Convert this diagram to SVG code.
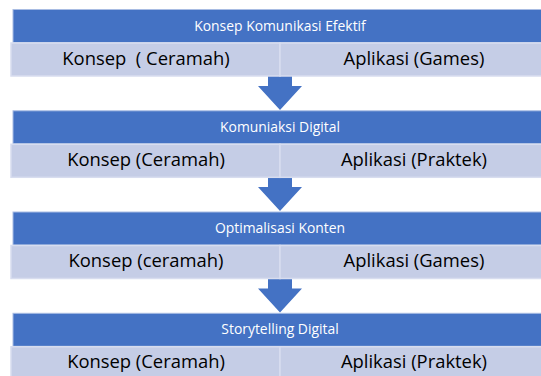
<svg xmlns="http://www.w3.org/2000/svg" width="541" height="376" viewBox="0 0 541 376">
<defs>
<style>
.hdr{fill:#4472c4;stroke:#a8bce3;stroke-width:1}
.cell{fill:#c5cde6;stroke:#d8ddef;stroke-width:1.5}
.ht{font-family:"Open Sans","Noto Sans","Liberation Sans",sans-serif;font-size:13.9px;fill:#ffffff;text-anchor:middle}
.ct{font-family:"Open Sans","Noto Sans","Liberation Sans",sans-serif;font-size:18.4px;fill:#000000;text-anchor:middle;white-space:pre}
.arr{fill:#4472c4}
</style>
</defs>
<rect width="541" height="376" fill="#ffffff"/>
<g id="connectors">
<polygon class="arr" points="268,76 292,76 292,86 302,86 280,110 258,86 268,86"/>
<polygon class="arr" points="268,177 292,177 292,187 302,187 280,211 258,187 268,187"/>
<polygon class="arr" points="268,278.5 292,278.5 292,288.5 302,288.5 280,312.5 258,288.5 268,288.5"/>
</g>
<g id="block1">
<rect class="hdr" x="13" y="9.5" width="540" height="33"/>
<text class="ht" x="280" y="30.5">Konsep Komunikasi Efektif</text>
<rect class="cell" x="11" y="43" width="269" height="33"/>
<rect class="cell" x="280" y="43" width="270" height="33"/>
<text class="ct" x="146" y="64.5" xml:space="preserve">Konsep  ( Ceramah)</text>
<text class="ct" x="414" y="64.5">Aplikasi (Games)</text>
</g>
<g id="block2">
<rect class="hdr" x="13" y="110.8" width="540" height="33"/>
<text class="ht" x="280" y="131.8">Komuniaksi Digital</text>
<rect class="cell" x="11" y="144.3" width="269" height="33"/>
<rect class="cell" x="280" y="144.3" width="270" height="33"/>
<text class="ct" x="146" y="165.8">Konsep (Ceramah)</text>
<text class="ct" x="414" y="165.8">Aplikasi (Praktek)</text>
</g>
<g id="block3">
<rect class="hdr" x="13" y="212" width="540" height="33"/>
<text class="ht" x="280" y="233">Optimalisasi Konten</text>
<rect class="cell" x="11" y="245.5" width="269" height="33"/>
<rect class="cell" x="280" y="245.5" width="270" height="33"/>
<text class="ct" x="146" y="267">Konsep (ceramah)</text>
<text class="ct" x="414" y="267">Aplikasi (Games)</text>
</g>
<g id="block4">
<rect class="hdr" x="13" y="313.3" width="540" height="33"/>
<text class="ht" x="280" y="334.3">Storytelling Digital</text>
<rect class="cell" x="11" y="346.8" width="269" height="33"/>
<rect class="cell" x="280" y="346.8" width="270" height="33"/>
<text class="ct" x="146" y="368.3">Konsep (Ceramah)</text>
<text class="ct" x="414" y="368.3">Aplikasi (Praktek)</text>
</g>
</svg>
